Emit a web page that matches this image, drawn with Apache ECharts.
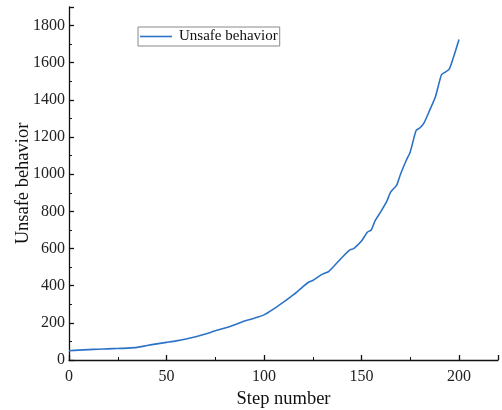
<!DOCTYPE html>
<html>
<head>
<meta charset="utf-8">
<script src="https://cdn.jsdelivr.net/npm/echarts@6/dist/echarts.min.js"></script>
<style>html,body{margin:0;padding:0;background:#fff;}#c{width:502px;height:410px;}</style>
</head>
<body>
<div id="c"></div>
<script>
const seriesName = 'Unsafe behavior';
const steps = [0,5,10,15,20,25,30,35,40,45,50,55,60,65,70,75,80,85,90,95,100,105,110,115,120,123,125,130,133,135,140,144,146,150,153,155,157,160,163,165,168,170,173,175,178,180,182,185,188,191,193,195,197.5,200];
const values = [50,53,56,58,60,62,64,68,78,87,95,103,113,125,140,157,172,190,210,225,243,275,312,350,395,420,428,462,475,495,552,593,600,640,688,700,750,800,855,905,940,1000,1075,1120,1235,1250,1275,1345,1420,1535,1550,1565,1640,1725];
const xTicks = [0,50,100,150,200];
const yTicks = [0,200,400,600,800,1000,1200,1400,1600,1800];

const font = 'Liberation Serif';
const chart = echarts.init(document.getElementById('c'));
const axisCommon = {
  axisLine: {show: true, lineStyle: {color: '#111', width: 1.3}},
  axisTick: {show: true, inside: true, length: 5, lineStyle: {color: '#111', width: 1.3}},
  minorTick: {show: true, splitNumber: 2, length: 3, lineStyle: {color: '#111', width: 1}},
  splitLine: {show: false},
  axisLabel: {fontFamily: font, fontSize: 16, color: '#222', margin: 7},
  nameTextStyle: {fontFamily: font, fontSize: 18.5, color: '#111'},
  nameLocation: 'middle'
};
chart.setOption({
  animation: false,
  grid: {left: 69, top: 7, right: 4, bottom: 50, containLabel: false, outerBoundsMode: 'none'},
  legend: {
    left: 138, top: 27,
    data: [{name: seriesName, icon: 'path://M0,0 L32,0 L32,1.6 L0,1.6 Z'}],
    borderColor: '#888', borderWidth: 1, padding: [2, 2, 2, 2],
    itemWidth: 32, itemHeight: 2, itemGap: 7,
    textStyle: {fontFamily: font, fontSize: 15, color: '#111', padding: [0, 0, 0, 2]}
  },
  xAxis: Object.assign({}, axisCommon, {
    type: 'value', min: 0, max: 220, interval: 50,
    name: 'Step number', nameGap: 24,
    axisLabel: Object.assign({}, axisCommon.axisLabel, {
      margin: 9,
      formatter: v => xTicks.indexOf(v) >= 0 ? String(v) : ''
    })
  }),
  yAxis: Object.assign({}, axisCommon, {
    type: 'value', min: 0, max: 1900, interval: 200,
    name: 'Unsafe behavior', nameGap: 36, nameMoveOverlap: false,
    axisLabel: Object.assign({}, axisCommon.axisLabel, {
      margin: 4,
      formatter: v => yTicks.indexOf(v) >= 0 ? String(v) : ''
    })
  }),
  series: [{
    name: seriesName,
    type: 'line',
    data: steps.map((s, i) => [s, values[i]]),
    showSymbol: false,
    symbol: 'none',
    smooth: 0.2,
    lineStyle: {color: '#2c73c6', width: 1.6},
    itemStyle: {color: '#2c73c6'}
  }]
});
</script>
</body>
</html>
